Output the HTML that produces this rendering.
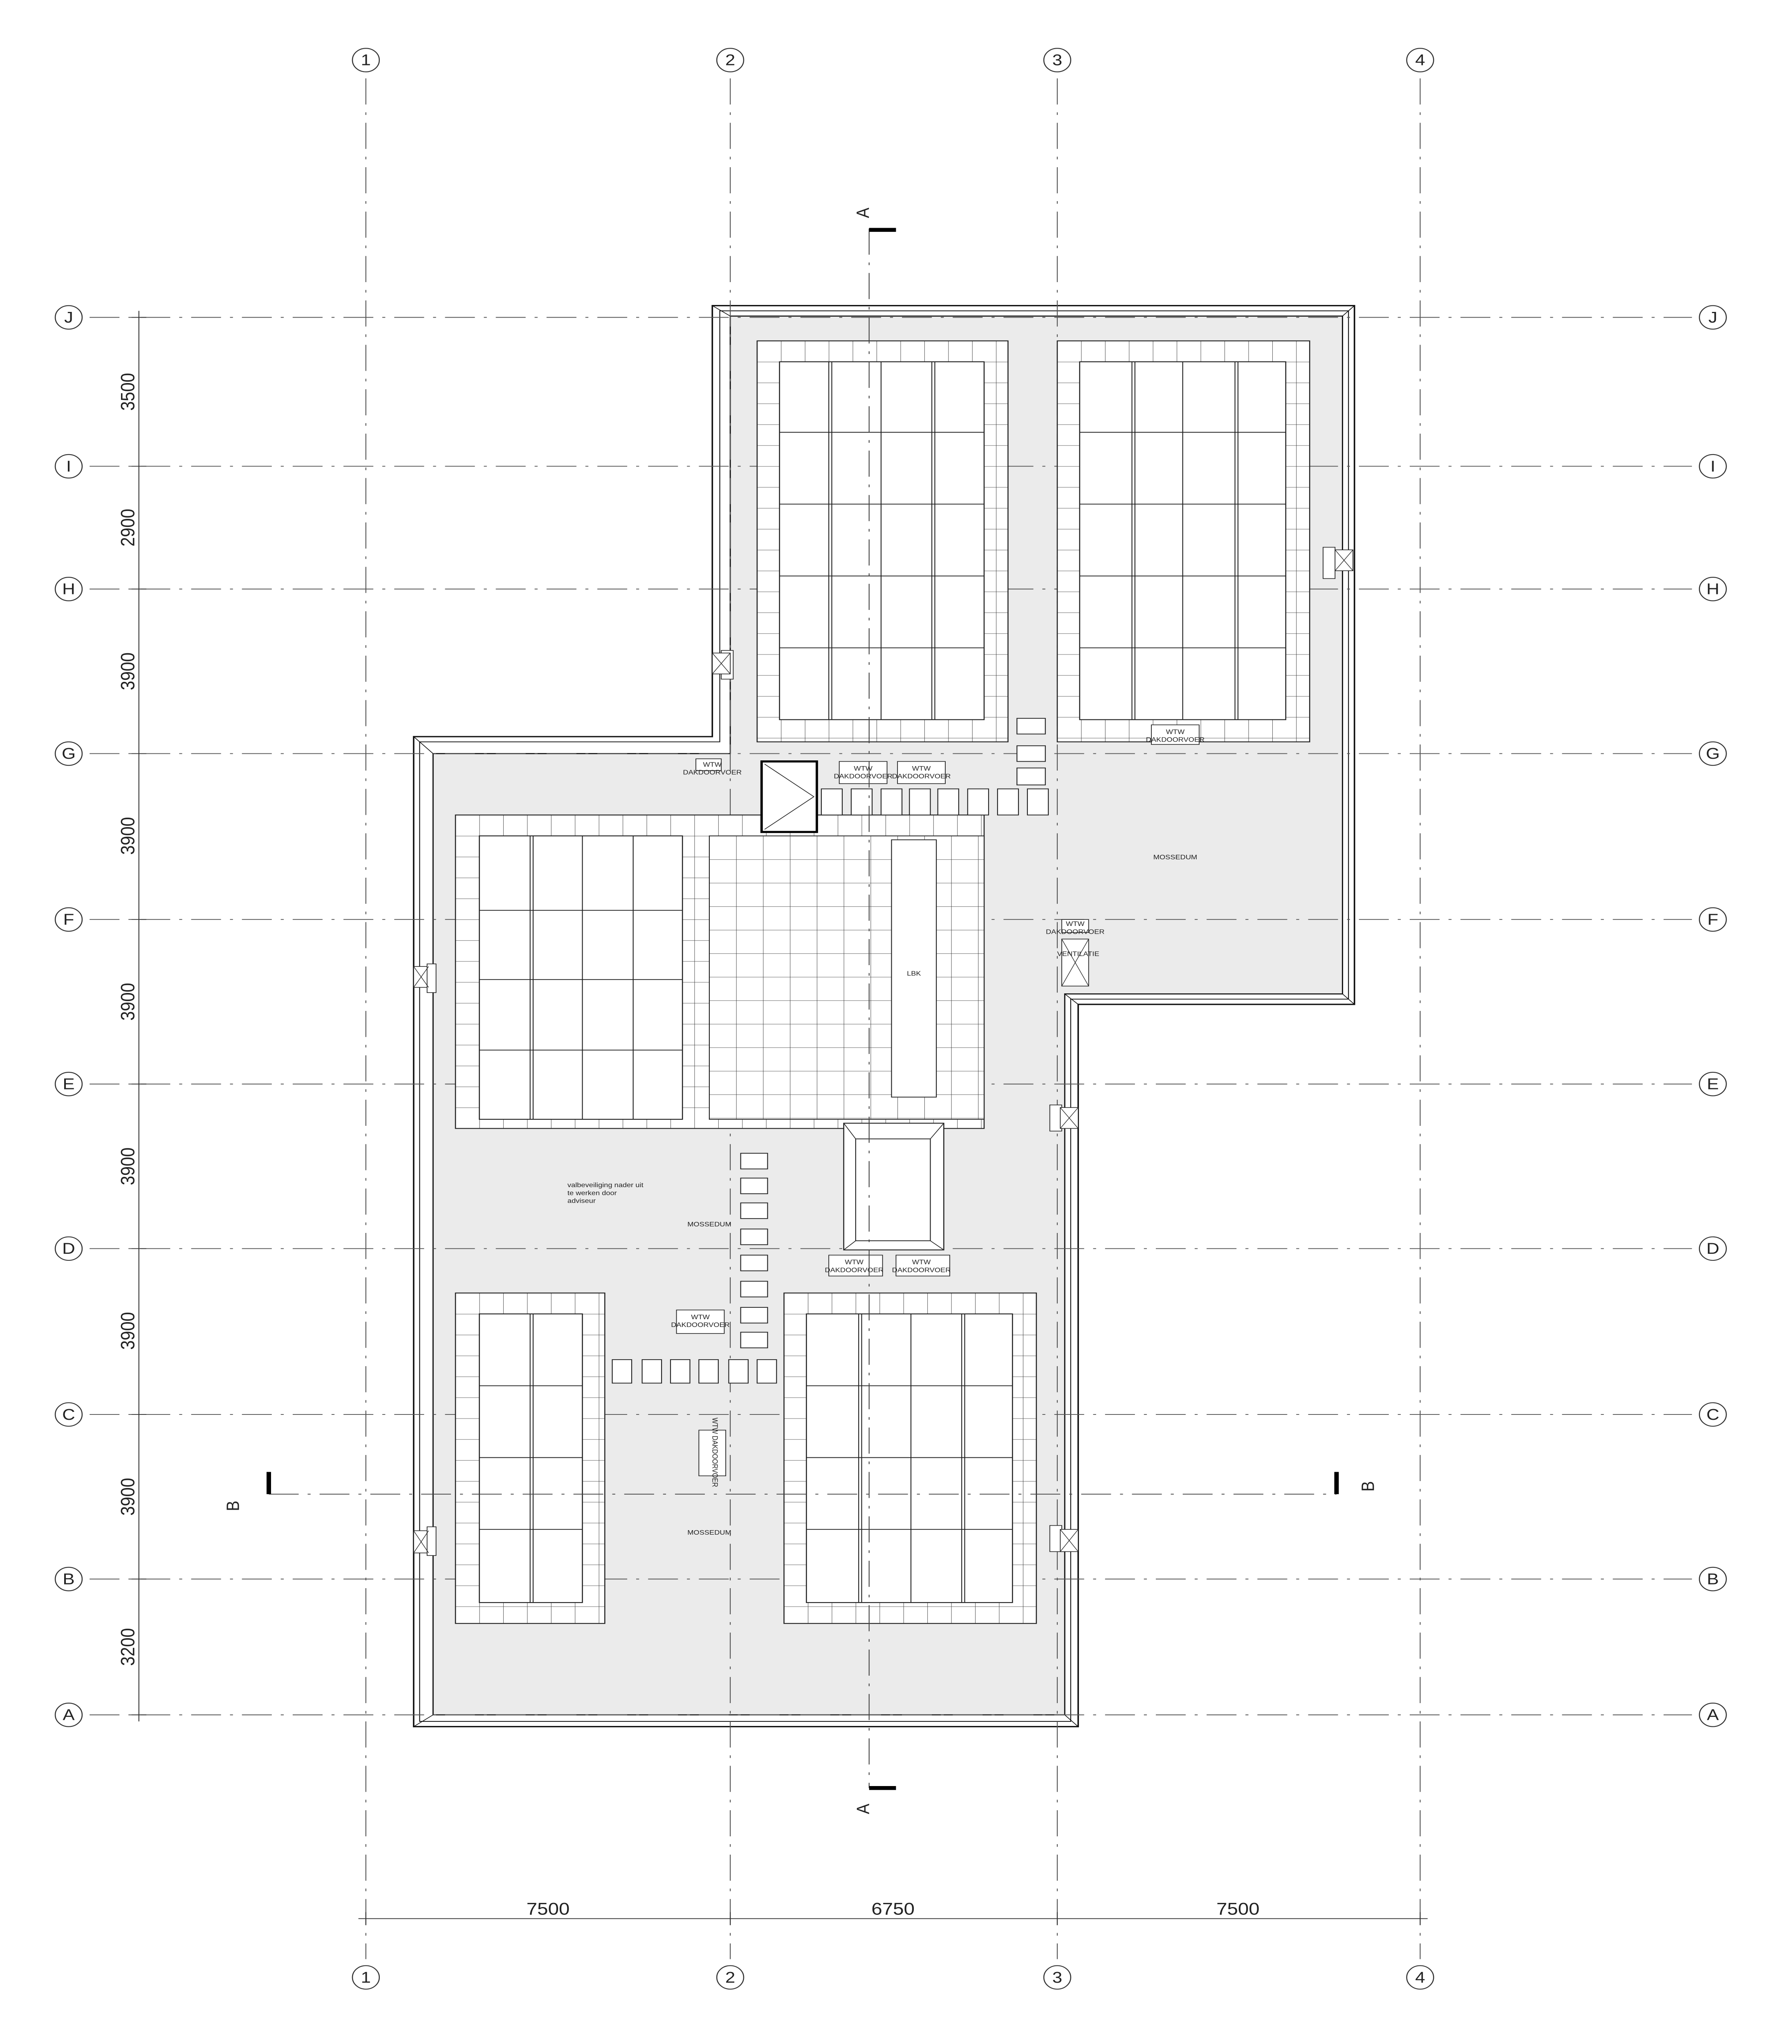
<!DOCTYPE html>
<html><head><meta charset="utf-8"><style>
html,body{margin:0;padding:0;background:#fff;width:100%;height:100%;overflow:hidden}
svg{display:block;width:100vw;height:100vh}
text{font-family:"Liberation Sans",sans-serif;fill:#222}
</style></head><body>
<svg viewBox="0 0 1200 1565" preserveAspectRatio="none" xmlns="http://www.w3.org/2000/svg">
<defs>
<pattern id="p1" width="16" height="16" x="507" y="261" patternUnits="userSpaceOnUse"><rect width="16" height="16" fill="#fff"/><path d="M0 0V16M0 0H16" stroke="#333" stroke-width="0.5" fill="none"/></pattern>
<pattern id="p2" width="16" height="16" x="708" y="261" patternUnits="userSpaceOnUse"><rect width="16" height="16" fill="#fff"/><path d="M0 0V16M0 0H16" stroke="#333" stroke-width="0.5" fill="none"/></pattern>
<pattern id="p3" width="16" height="16" x="305" y="624" patternUnits="userSpaceOnUse"><rect width="16" height="16" fill="#fff"/><path d="M0 0V16M0 0H16" stroke="#333" stroke-width="0.5" fill="none"/></pattern>
<pattern id="p4" width="16" height="16" x="305" y="990" patternUnits="userSpaceOnUse"><rect width="16" height="16" fill="#fff"/><path d="M0 0V16M0 0H16" stroke="#333" stroke-width="0.5" fill="none"/></pattern>
<pattern id="p5" width="16" height="16" x="525" y="990" patternUnits="userSpaceOnUse"><rect width="16" height="16" fill="#fff"/><path d="M0 0V16M0 0H16" stroke="#333" stroke-width="0.5" fill="none"/></pattern>
<pattern id="t2" width="18" height="18" x="475" y="640" patternUnits="userSpaceOnUse">
<rect width="18" height="18" fill="#fff"/><path d="M0 0V18M0 0H18" stroke="#333" stroke-width="0.5" fill="none"/>
</pattern>
</defs>
<rect width="1200" height="1565" fill="#fff"/>

<polygon points="477,234 907,234 907,769 722,769 722,1322 277,1322 277,564 477,564" fill="#fff" stroke="#111" stroke-width="1"/>
<polygon points="482,238 903,238 903,765 717,765 717,1318 281,1318 281,568 482,568" fill="none" stroke="#111" stroke-width="0.6"/>
<polygon points="489,242 899,242 899,761 713,761 713,1313 290,1313 290,577 489,577" fill="#ebebeb" stroke="#111" stroke-width="0.8"/>
<path d="M477,234L489,242M907,234L899,242M907,769L899,761M722,769L713,761M722,1322L713,1313M277,1322L290,1313M277,564L290,577" stroke="#111" stroke-width="0.5"/>

<g stroke="#555" stroke-width="0.6" stroke-dasharray="20 6 2 6" fill="none">
<path d="M60 243H1133M60 357H1133M60 451H1133M60 577H1133M60 704H1133M60 830H1133M60 956H1133M60 1083H1133M60 1209H1133M60 1313H1133"/>
<path d="M245 60V1500M489 60V1500M708 60V1500M951 60V1500"/>
</g>

<rect x="507" y="261" width="168" height="307" fill="url(#p1)" stroke="#222" stroke-width="0.7"/>
<rect x="522" y="277" width="137" height="274" fill="#fff" stroke="#222" stroke-width="0.7"/>
<path d="M555 277V551M557 277V551M590 277V551M624 277V551M626 277V551M522 331H659M522 386H659M522 441H659M522 496H659" stroke="#222" stroke-width="0.6"/>
<rect x="708" y="261" width="169" height="307" fill="url(#p2)" stroke="#222" stroke-width="0.7"/>
<rect x="723" y="277" width="138" height="274" fill="#fff" stroke="#222" stroke-width="0.7"/>
<path d="M758 277V551M760 277V551M792 277V551M827 277V551M829 277V551M723 331H861M723 386H861M723 441H861M723 496H861" stroke="#222" stroke-width="0.6"/>

<rect x="305" y="624" width="354" height="240" fill="url(#p3)" stroke="#222" stroke-width="0.7"/>
<rect x="475" y="640" width="184" height="217" fill="url(#t2)" stroke="#222" stroke-width="0.6"/>
<rect x="321" y="640" width="136" height="217" fill="#fff" stroke="#222" stroke-width="0.7"/>
<path d="M355 640V857M357 640V857M390 640V857M424 640V857M321 697H457M321 750H457M321 804H457" stroke="#222" stroke-width="0.6"/>
<rect x="597" y="643" width="30" height="197" fill="#fff" stroke="#222" stroke-width="0.6"/>
<text x="612" y="747" font-size="5" text-anchor="middle">LBK</text>
<rect x="510" y="583" width="37" height="54" fill="#fff" stroke="#000" stroke-width="1.6"/>
<path d="M512 585L545 610L512 635" stroke="#222" stroke-width="0.5" fill="none"/>
<g fill="#fff" stroke="#222" stroke-width="0.6">
<rect x="550" y="604" width="14" height="20"/><rect x="570" y="604" width="14" height="20"/><rect x="590" y="604" width="14" height="20"/><rect x="609" y="604" width="14" height="20"/><rect x="628" y="604" width="14" height="20"/><rect x="648" y="604" width="14" height="20"/><rect x="668" y="604" width="14" height="20"/><rect x="688" y="604" width="14" height="20"/>
<rect x="681" y="550" width="19" height="12"/><rect x="681" y="571" width="19" height="12"/><rect x="681" y="588" width="19" height="13"/>
<rect x="496" y="883" width="18" height="12"/><rect x="496" y="902" width="18" height="12"/><rect x="496" y="921" width="18" height="12"/><rect x="496" y="941" width="18" height="12"/><rect x="496" y="961" width="18" height="12"/><rect x="496" y="981" width="18" height="12"/><rect x="496" y="1001" width="18" height="12"/><rect x="496" y="1020" width="18" height="12"/>
<rect x="410" y="1041" width="13" height="18"/><rect x="430" y="1041" width="13" height="18"/><rect x="449" y="1041" width="13" height="18"/><rect x="468" y="1041" width="13" height="18"/><rect x="488" y="1041" width="13" height="18"/><rect x="507" y="1041" width="13" height="18"/>
</g>
<rect x="565" y="860" width="67" height="97" fill="#fff" stroke="#222" stroke-width="0.7"/>
<rect x="573" y="872" width="50" height="78" fill="#fff" stroke="#222" stroke-width="0.6"/>
<path d="M565 860L573 872M632 860L623 872M565 957L573 950M632 957L623 950" stroke="#222" stroke-width="0.5"/>

<rect x="305" y="990" width="100" height="253" fill="url(#p4)" stroke="#222" stroke-width="0.7"/>
<rect x="321" y="1006" width="69" height="221" fill="#fff" stroke="#222" stroke-width="0.7"/>
<path d="M355 1006V1227M357 1006V1227M321 1061H390M321 1116H390M321 1171H390" stroke="#222" stroke-width="0.6"/>
<rect x="525" y="990" width="169" height="253" fill="url(#p5)" stroke="#222" stroke-width="0.7"/>
<rect x="540" y="1006" width="138" height="221" fill="#fff" stroke="#222" stroke-width="0.7"/>
<path d="M575 1006V1227M577 1006V1227M610 1006V1227M644 1006V1227M646 1006V1227M540 1061H678M540 1116H678M540 1171H678" stroke="#222" stroke-width="0.6"/>

<g fill="#fff" stroke="#222" stroke-width="0.5">
<rect x="466" y="581" width="17" height="9"/>
<rect x="562" y="583" width="32" height="17"/><rect x="601" y="583" width="32" height="17"/>
<rect x="771" y="555" width="32" height="15"/>
<rect x="711" y="704" width="18" height="10"/>
<rect x="711" y="719" width="18" height="36"/>
<rect x="453" y="1003" width="32" height="18"/>
<rect x="555" y="961" width="36" height="16"/><rect x="600" y="961" width="36" height="16"/>
<rect x="468" y="1095" width="18" height="35"/>
</g>
<path d="M711 719L729 755M729 719L711 755" stroke="#222" stroke-width="0.4"/>
<g font-size="5" text-anchor="middle">
<text x="477" y="587">WTW</text><text x="477" y="593">DAKDOORVOER</text>
<text x="578" y="590">WTW</text><text x="578" y="596">DAKDOORVOER</text>
<text x="617" y="590">WTW</text><text x="617" y="596">DAKDOORVOER</text>
<text x="787" y="562">WTW</text><text x="787" y="568">DAKDOORVOER</text>
<text x="720" y="709">WTW</text><text x="720" y="715">DAKDOORVOER</text>
<text x="722" y="732">VENTILATIE</text>
<text x="469" y="1010">WTW</text><text x="469" y="1016">DAKDOORVOER</text>
<text x="572" y="968">WTW</text><text x="572" y="974">DAKDOORVOER</text>
<text x="617" y="968">WTW</text><text x="617" y="974">DAKDOORVOER</text>
<text x="787" y="658">MOSSEDUM</text>
<text x="475" y="939">MOSSEDUM</text>
<text x="475" y="1175">MOSSEDUM</text>
<text x="477" y="1112" transform="rotate(90 477 1112)">WTW DAKDOORVOER</text>
</g>
<g font-size="5"><text x="380" y="909">valbeveiliging nader uit</text><text x="380" y="915">te werken door</text><text x="380" y="921">adviseur</text></g>

<g fill="#fff" stroke="#222" stroke-width="0.5">
<rect x="886" y="419" width="8" height="24"/><rect x="894" y="421" width="12" height="16"/>
<rect x="483" y="498" width="8" height="22"/><rect x="477" y="500" width="12" height="16"/>
<rect x="277" y="740" width="10" height="16"/><rect x="286" y="738" width="6" height="22"/>
<rect x="703" y="846" width="8" height="20"/><rect x="710" y="848" width="12" height="16"/>
<rect x="277" y="1172" width="10" height="17"/><rect x="286" y="1169" width="6" height="22"/>
<rect x="703" y="1168" width="8" height="20"/><rect x="710" y="1171" width="12" height="17"/>
</g>
<path d="M894 421L906 437M906 421L894 437M477 500L489 516M489 500L477 516M277 740L287 756M287 740L277 756M710 848L722 864M722 848L710 864M277 1172L287 1189M287 1172L277 1189M710 1171L722 1188M722 1171L710 1188" stroke="#222" stroke-width="0.4"/>

<g stroke="#444" stroke-width="0.6" stroke-dasharray="20 6 2 6"><path d="M582 175V1369M180 1144H895"/></g>
<g stroke="#000" stroke-width="3"><path d="M582 176H600M582 1369H600M180 1127V1144M895 1127V1144"/></g>
<g font-size="12" text-anchor="middle">
<text x="582" y="163" transform="rotate(-90 582 163)">A</text>
<text x="582" y="1385" transform="rotate(-90 582 1385)">A</text>
<text x="160" y="1153" transform="rotate(-90 160 1153)">B</text>
<text x="920" y="1138" transform="rotate(-90 920 1138)">B</text>
</g>

<g stroke="#333" stroke-width="0.6">
<path d="M93 238V1318M88 243H98M88 357H98M88 451H98M88 577H98M88 704H98M88 830H98M88 956H98M88 1083H98M88 1209H98M88 1313H98"/>
<path d="M240 1469H956M245 1464V1474M489 1464V1474M708 1464V1474M951 1464V1474"/>
</g>
<g font-size="13" text-anchor="middle">
<text x="90" y="300" transform="rotate(-90 90 300)">3500</text>
<text x="90" y="404" transform="rotate(-90 90 404)">2900</text>
<text x="90" y="514" transform="rotate(-90 90 514)">3900</text>
<text x="90" y="640" transform="rotate(-90 90 640)">3900</text>
<text x="90" y="767" transform="rotate(-90 90 767)">3900</text>
<text x="90" y="893" transform="rotate(-90 90 893)">3900</text>
<text x="90" y="1019" transform="rotate(-90 90 1019)">3900</text>
<text x="90" y="1146" transform="rotate(-90 90 1146)">3900</text>
<text x="90" y="1261" transform="rotate(-90 90 1261)">3200</text>
<text x="367" y="1466">7500</text><text x="598" y="1466">6750</text><text x="829" y="1466">7500</text>
</g>

<g fill="#fff" stroke="#333" stroke-width="0.7">
<circle cx="245" cy="46" r="9"/><circle cx="489" cy="46" r="9"/><circle cx="708" cy="46" r="9"/><circle cx="951" cy="46" r="9"/>
<circle cx="245" cy="1514" r="9"/><circle cx="489" cy="1514" r="9"/><circle cx="708" cy="1514" r="9"/><circle cx="951" cy="1514" r="9"/>
<circle cx="46" cy="243" r="9"/><circle cx="46" cy="357" r="9"/><circle cx="46" cy="451" r="9"/><circle cx="46" cy="577" r="9"/><circle cx="46" cy="704" r="9"/><circle cx="46" cy="830" r="9"/><circle cx="46" cy="956" r="9"/><circle cx="46" cy="1083" r="9"/><circle cx="46" cy="1209" r="9"/><circle cx="46" cy="1313" r="9"/>
<circle cx="1147" cy="243" r="9"/><circle cx="1147" cy="357" r="9"/><circle cx="1147" cy="451" r="9"/><circle cx="1147" cy="577" r="9"/><circle cx="1147" cy="704" r="9"/><circle cx="1147" cy="830" r="9"/><circle cx="1147" cy="956" r="9"/><circle cx="1147" cy="1083" r="9"/><circle cx="1147" cy="1209" r="9"/><circle cx="1147" cy="1313" r="9"/>
</g>
<g font-size="12" text-anchor="middle">
<text x="245" y="50">1</text><text x="489" y="50">2</text><text x="708" y="50">3</text><text x="951" y="50">4</text>
<text x="245" y="1518">1</text><text x="489" y="1518">2</text><text x="708" y="1518">3</text><text x="951" y="1518">4</text>
<text x="46" y="247">J</text><text x="46" y="361">I</text><text x="46" y="455">H</text><text x="46" y="581">G</text><text x="46" y="708">F</text><text x="46" y="834">E</text><text x="46" y="960">D</text><text x="46" y="1087">C</text><text x="46" y="1213">B</text><text x="46" y="1317">A</text>
<text x="1147" y="247">J</text><text x="1147" y="361">I</text><text x="1147" y="455">H</text><text x="1147" y="581">G</text><text x="1147" y="708">F</text><text x="1147" y="834">E</text><text x="1147" y="960">D</text><text x="1147" y="1087">C</text><text x="1147" y="1213">B</text><text x="1147" y="1317">A</text>
</g>
</svg>
</body></html>
